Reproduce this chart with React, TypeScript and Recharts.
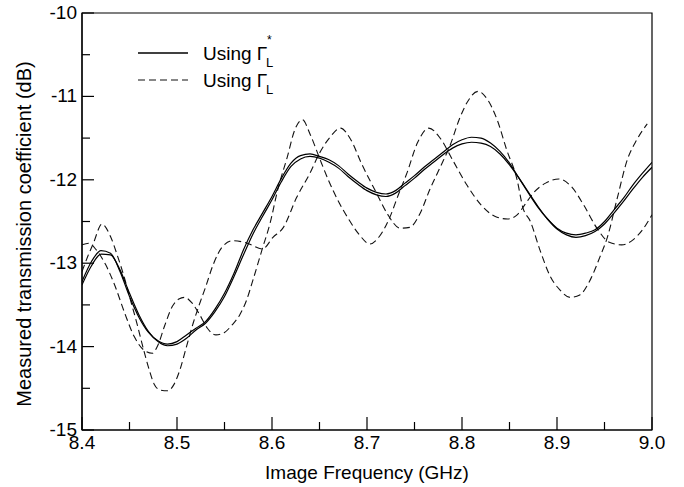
import React from 'react';
import { LineChart, Line, XAxis, YAxis, ReferenceArea } from 'recharts';

// frequency grid (GHz) shared by the two solid curves
const freqGrid = [
  8.40, 8.41, 8.42, 8.43, 8.44, 8.45, 8.46, 8.47, 8.48, 8.49,
  8.50, 8.51, 8.52, 8.53, 8.54, 8.55, 8.56, 8.57, 8.58, 8.59,
  8.60, 8.61, 8.62, 8.63, 8.64, 8.65, 8.66, 8.67, 8.68, 8.69,
  8.70, 8.71, 8.72, 8.73, 8.74, 8.75, 8.76, 8.77, 8.78, 8.79,
  8.80, 8.81, 8.82, 8.83, 8.84, 8.85, 8.86, 8.87, 8.88, 8.89,
  8.90, 8.91, 8.92, 8.93, 8.94, 8.95, 8.96, 8.97, 8.98, 8.99, 9.00,
];

// Using Gamma_L* (two measurements)
const solidA = [
  -13.22, -12.98, -12.85, -12.88, -13.1, -13.4, -13.65, -13.83, -13.93, -13.97,
  -13.94, -13.86, -13.78, -13.7, -13.55, -13.36, -13.12, -12.84, -12.6, -12.4,
  -12.2, -11.98, -11.8, -11.71, -11.69, -11.72, -11.76, -11.83, -11.93, -12.02,
  -12.1, -12.15, -12.17, -12.13, -12.04, -11.95, -11.85, -11.76, -11.67, -11.58,
  -11.52, -11.49, -11.5, -11.56, -11.66, -11.8, -11.98, -12.16, -12.33, -12.47,
  -12.58, -12.64, -12.66, -12.64, -12.6, -12.5, -12.36, -12.22, -12.06, -11.92, -11.79,
];
const solidB = [
  -13.26, -13.03, -12.89, -12.9, -13.08, -13.36, -13.62, -13.82, -13.94, -13.99,
  -13.97, -13.9, -13.8, -13.72, -13.58, -13.4, -13.16, -12.9, -12.65, -12.44,
  -12.24, -12.02, -11.84, -11.75, -11.72, -11.74, -11.79, -11.86, -11.96, -12.05,
  -12.13, -12.18, -12.2, -12.16, -12.07, -11.98, -11.88, -11.79, -11.7, -11.62,
  -11.57, -11.55, -11.56, -11.6, -11.69, -11.82, -11.98, -12.15, -12.32, -12.47,
  -12.59, -12.66, -12.69, -12.67, -12.62, -12.53, -12.4, -12.26, -12.11, -11.97, -11.85,
];

// Using Gamma_L (two measurements)
const dashAFreq = [
  8.400, 8.407, 8.415, 8.425, 8.435, 8.445, 8.455, 8.465, 8.474, 8.480,
  8.487, 8.495, 8.502, 8.508, 8.516, 8.524, 8.532, 8.541, 8.550, 8.558,
  8.566, 8.573, 8.580, 8.590, 8.598, 8.606, 8.616, 8.624, 8.632, 8.640,
  8.650, 8.660, 8.670, 8.680, 8.692, 8.703, 8.713, 8.724, 8.733, 8.742,
  8.753, 8.765, 8.777, 8.790, 8.805, 8.820, 8.835, 8.848, 8.858, 8.866,
  8.875, 8.888, 8.902, 8.915, 8.928, 8.942, 8.955, 8.968, 8.980, 8.990, 9.000,
];
const dashA = [
  -12.78, -12.76, -12.84, -13.02, -13.28, -13.6, -13.88, -14.04, -14.08, -13.98,
  -13.75, -13.52, -13.43, -13.41, -13.48, -13.62, -13.78, -13.86, -13.83, -13.74,
  -13.62, -13.45, -13.2, -12.82, -12.52, -12.12, -11.73, -11.4, -11.28, -11.45,
  -11.74, -12.02, -12.26, -12.46, -12.66, -12.77, -12.68, -12.45, -12.18, -11.92,
  -11.56, -11.38, -11.5, -11.76, -12.06, -12.3, -12.44, -12.47, -12.42, -12.3,
  -12.16, -12.04, -11.99, -12.08, -12.3, -12.58, -12.75, -12.78, -12.72, -12.6, -12.42,
];

const dashBFreq = [
  8.400, 8.406, 8.412, 8.421, 8.430, 8.437, 8.444, 8.451, 8.458, 8.464,
  8.470, 8.476, 8.482, 8.490, 8.497, 8.503, 8.510, 8.517, 8.524, 8.530,
  8.538, 8.548, 8.559, 8.574, 8.590, 8.601, 8.612, 8.626, 8.640, 8.650,
  8.661, 8.672, 8.683, 8.694, 8.710, 8.721, 8.735, 8.745, 8.756, 8.766,
  8.777, 8.787, 8.798, 8.805, 8.817, 8.827, 8.837, 8.847, 8.858, 8.864,
  8.872, 8.882, 8.893, 8.903, 8.914, 8.924, 8.935, 8.945, 8.953, 8.963,
  8.974, 8.984, 8.995,
];
const dashB = [
  -13.1, -12.92, -12.76, -12.53, -12.68, -12.9, -13.15, -13.44, -13.73, -14.0,
  -14.25, -14.45, -14.52, -14.53, -14.45, -14.28, -14.0, -13.72, -13.48, -13.29,
  -13.02, -12.8, -12.73, -12.76, -12.83, -12.69, -12.57, -12.21, -11.92, -11.68,
  -11.49, -11.38, -11.52, -11.8, -12.16, -12.4, -12.58, -12.57, -12.4, -12.12,
  -11.85, -11.6, -11.25, -11.08, -10.94, -11.04, -11.28, -11.64, -12.0, -12.33,
  -12.5, -12.84, -13.16, -13.32, -13.41, -13.38, -13.2, -12.93, -12.69, -12.24,
  -11.76, -11.52, -11.33,
];

const xTicks = [8.4, 8.45, 8.5, 8.55, 8.6, 8.65, 8.7, 8.75, 8.8, 8.85, 8.9, 8.95, 9.0];
const yTicks = [-15, -14.5, -14, -13.5, -13, -12.5, -12, -11.5, -11, -10.5, -10];

const FONT = '"Liberation Sans", Arial, Helvetica, sans-serif';

const toRows = (fs: number[], vs: number[]) => fs.map((f, i) => ({ f, db: vs[i] }));

const isMajor = (v: number, step: number) => Math.abs(v / step - Math.round(v / step)) < 1e-6;

const XTick = (props: any) => {
  const { x, y, payload } = props;
  const major = isMajor(payload.value, 0.1);
  return (
    <g>
      <line x1={x} x2={x} y1={y} y2={y - (major ? 13 : 8)} stroke="#000" strokeWidth={1.2} />
      {major && (
        <text x={x} y={y + 19} textAnchor="middle" fontSize={19} fontFamily={FONT} fill="#000">
          {payload.value.toFixed(1)}
        </text>
      )}
    </g>
  );
};

const YTick = (props: any) => {
  const { x, y, payload } = props;
  const major = isMajor(payload.value, 1);
  return (
    <g>
      <line x1={x} x2={x + (major ? 12 : 8)} y1={y} y2={y} stroke="#000" strokeWidth={1.2} />
      {major && (
        <text x={x - 5} y={y + 6} textAnchor="end" fontSize={19} fontFamily={FONT} fill="#000">
          {payload.value}
        </text>
      )}
    </g>
  );
};

export default function App() {
  return (
    <div style={{ position: 'absolute', left: 0, top: 0, width: 684, height: 487, background: '#fff' }}>
      <LineChart width={684} height={487} margin={{ top: 13, right: 32, bottom: 0, left: 0 }}>
        <XAxis
          dataKey="f"
          type="number"
          domain={[8.4, 9.0]}
          ticks={xTicks}
          tick={<XTick />}
          tickSize={0}
          tickMargin={0}
          tickLine={false}
          axisLine={{ stroke: '#000', strokeWidth: 1.2 }}
          height={57}
          allowDataOverflow
          label={{ value: 'Image Frequency (GHz)', position: 'insideBottom', offset: 8, fontSize: 19, fontFamily: FONT, fill: '#000' }}
        />
        <YAxis
          type="number"
          domain={[-15, -10]}
          ticks={yTicks}
          tick={<YTick />}
          tickSize={0}
          tickMargin={0}
          tickLine={false}
          axisLine={{ stroke: '#000', strokeWidth: 1.2 }}
          width={82}
          allowDataOverflow
        />
        <ReferenceArea x1={8.4} x2={9.0} y1={-15} y2={-10} fill="none" stroke="#000" strokeWidth={1.2} ifOverflow="visible" />
        <Line data={toRows(dashAFreq, dashA)} dataKey="db" type="monotone" stroke="#111" strokeWidth={1.1} strokeDasharray="7 4" dot={false} isAnimationActive={false} />
        <Line data={toRows(dashBFreq, dashB)} dataKey="db" type="monotone" stroke="#111" strokeWidth={1.1} strokeDasharray="7 4" dot={false} isAnimationActive={false} />
        <Line data={toRows(freqGrid, solidA)} dataKey="db" type="monotone" stroke="#000" strokeWidth={1.2} dot={false} isAnimationActive={false} />
        <Line data={toRows(freqGrid, solidB)} dataKey="db" type="monotone" stroke="#000" strokeWidth={1.2} dot={false} isAnimationActive={false} />
      </LineChart>
      <svg width={684} height={487} style={{ position: 'absolute', left: 0, top: 0, pointerEvents: 'none' }}>
        <text
          x={0}
          y={0}
          transform="translate(31, 234) rotate(-90)"
          textAnchor="middle"
          fontSize={20}
          fontFamily={FONT}
          fill="#000"
        >
          Measured transmission coefficient (dB)
        </text>
        <line x1={138} x2={188} y1={53} y2={53} stroke="#000" strokeWidth={1.3} />
        <text x={203} y={60} fontSize={19} fontFamily={FONT} fill="#000">
          Using Γ
          <tspan x={267} y={44} fontSize={12}>*</tspan>
          <tspan x={266} y={67} fontSize={13}>L</tspan>
        </text>
        <line x1={138} x2={188} y1={80} y2={80} stroke="#111" strokeWidth={1.1} strokeDasharray="7 4" />
        <text x={203} y={87} fontSize={19} fontFamily={FONT} fill="#000">
          Using Γ
          <tspan x={266} y={94} fontSize={13}>L</tspan>
        </text>
      </svg>
    </div>
  );
}
